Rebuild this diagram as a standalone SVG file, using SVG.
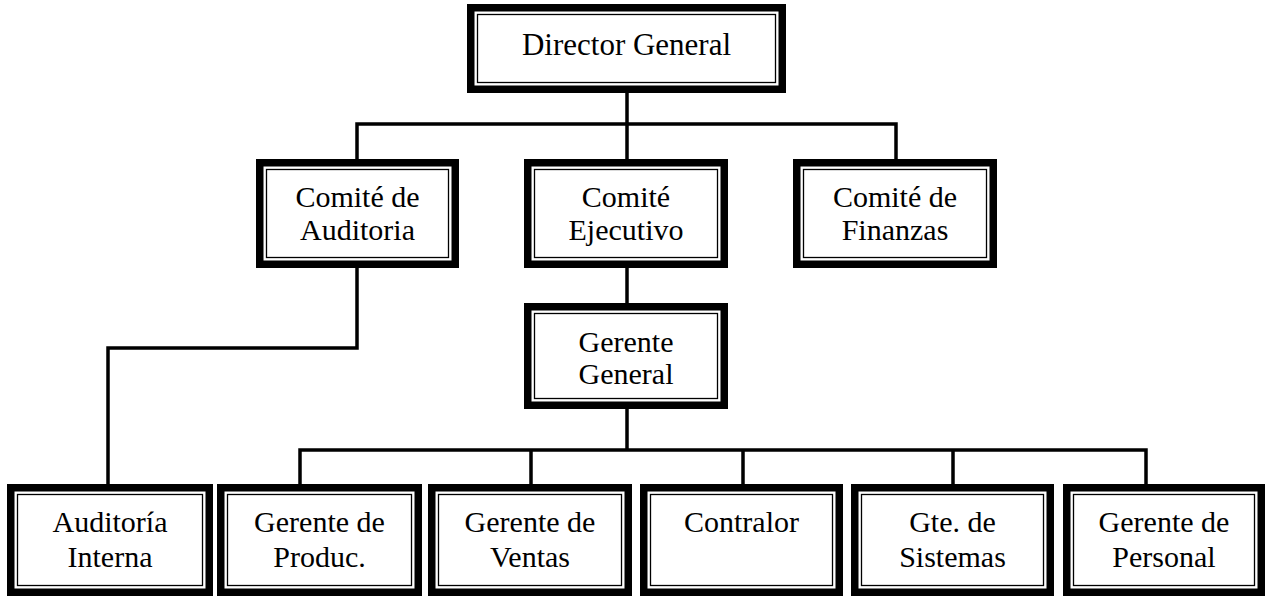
<svg xmlns="http://www.w3.org/2000/svg" width="1267" height="597" viewBox="0 0 1267 597">
<style>
.outer{fill:#fff;stroke:#000;stroke-width:7.5}
.inner{fill:none;stroke:#000;stroke-width:1.3}
.c{fill:none;stroke:#000;stroke-width:3.5;stroke-linecap:square;stroke-linejoin:miter}
text{font-family:"Liberation Serif","Times New Roman",serif;font-size:30px;fill:#000;text-anchor:middle}
</style>
<rect width="1267" height="597" fill="#fff"/>
<g id="connectors">
<path class="c" d="M627 93V159M357 124H896M357 124V159M896 124V159"/>
<path class="c" d="M627 268V303"/>
<path class="c" d="M357 268V348H108V484"/>
<path class="c" d="M627 409V450M300 450H1146M300 450V484M531 450V484M743 450V484M953 450V484M1146 450V484"/>
</g>
<g id="director-general">
<rect class="outer" x="470.75" y="7.75" width="311.5" height="81.5"/>
<rect class="inner" x="477.5" y="14.5" width="298" height="68"/>
<text x="626.5" y="55" style="font-size:31px">Director General</text>
</g>
<g id="comite-auditoria">
<rect class="outer" x="259.75" y="162.75" width="195.5" height="101.5"/>
<rect class="inner" x="266.5" y="169.5" width="182" height="88"/>
<text x="357.5" y="207">Comité de</text>
<text x="357.5" y="240">Auditoria</text>
</g>
<g id="comite-ejecutivo">
<rect class="outer" x="527.75" y="162.75" width="196.5" height="101.5"/>
<rect class="inner" x="534.5" y="169.5" width="183" height="88"/>
<text x="626" y="207">Comité</text>
<text x="626" y="240">Ejecutivo</text>
</g>
<g id="comite-finanzas">
<rect class="outer" x="796.75" y="162.75" width="196.5" height="101.5"/>
<rect class="inner" x="803.5" y="169.5" width="183" height="88"/>
<text x="895" y="207">Comité de</text>
<text x="895" y="240">Finanzas</text>
</g>
<g id="gerente-general">
<rect class="outer" x="527.75" y="306.75" width="196.5" height="98.5"/>
<rect class="inner" x="534.5" y="313.5" width="183" height="85"/>
<text x="626" y="352">Gerente</text>
<text x="626" y="384">General</text>
</g>
<g id="auditoria-interna">
<rect class="outer" x="10.75" y="487.75" width="198.5" height="104.5"/>
<rect class="inner" x="17.5" y="494.5" width="185" height="91"/>
<text x="110" y="532">Auditoría</text>
<text x="110" y="567">Interna</text>
</g>
<g id="gerente-produc">
<rect class="outer" x="220.75" y="487.75" width="197.5" height="104.5"/>
<rect class="inner" x="227.5" y="494.5" width="184" height="91"/>
<text x="319.5" y="532">Gerente de</text>
<text x="319.5" y="567">Produc.</text>
</g>
<g id="gerente-ventas">
<rect class="outer" x="431.75" y="487.75" width="196.5" height="104.5"/>
<rect class="inner" x="438.5" y="494.5" width="183" height="91"/>
<text x="530" y="532">Gerente de</text>
<text x="530" y="567">Ventas</text>
</g>
<g id="contralor">
<rect class="outer" x="643.75" y="487.75" width="195.5" height="104.5"/>
<rect class="inner" x="650.5" y="494.5" width="182" height="91"/>
<text x="741.5" y="532">Contralor</text>
</g>
<g id="gte-sistemas">
<rect class="outer" x="854.75" y="487.75" width="195.5" height="104.5"/>
<rect class="inner" x="861.5" y="494.5" width="182" height="91"/>
<text x="952.5" y="532">Gte. de</text>
<text x="952.5" y="567">Sistemas</text>
</g>
<g id="gerente-personal">
<rect class="outer" x="1066.75" y="487.75" width="194.5" height="104.5"/>
<rect class="inner" x="1073.5" y="494.5" width="181" height="91"/>
<text x="1164" y="532">Gerente de</text>
<text x="1164" y="567">Personal</text>
</g>
</svg>
